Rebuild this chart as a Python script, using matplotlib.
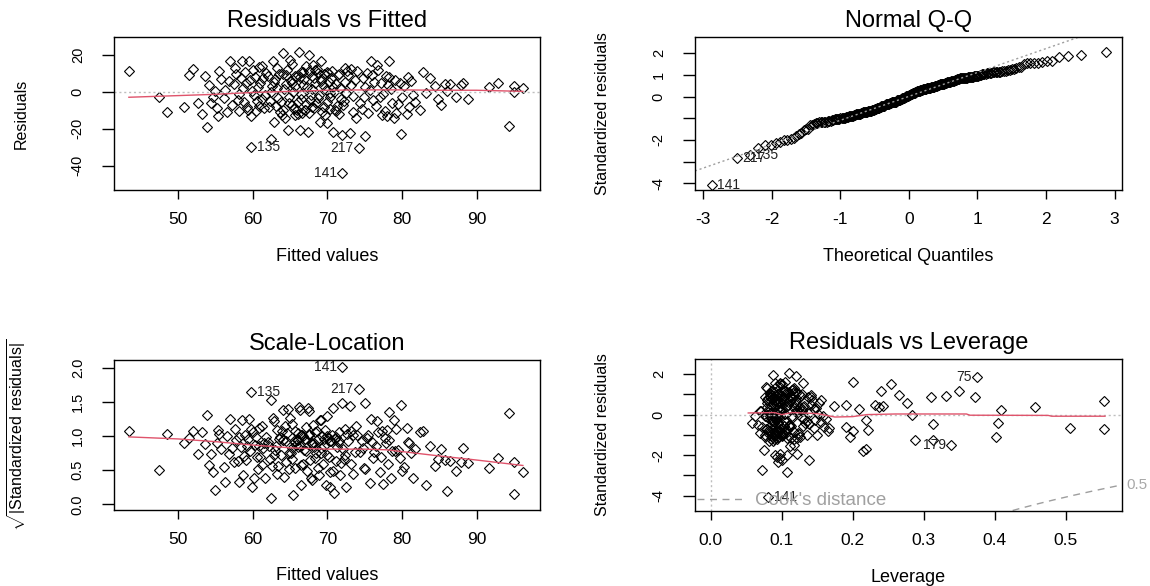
'''
Regression diagnostics (plot.lm style) for a fitted linear model.
'''

from statistics import NormalDist

import matplotlib
matplotlib.use("Agg")
import matplotlib.pyplot as plt
from matplotlib.lines import Line2D
import numpy as np

plt.rcParams['font.family'] = ['Liberation Sans', 'DejaVu Sans']
plt.rcParams['mathtext.fontset'] = 'custom'
plt.rcParams['mathtext.rm'] = 'Liberation Sans'
plt.rcParams['mathtext.it'] = 'Liberation Sans:italic'

# The first five observations are the labelled ones.
obs_names = ["141", "217", "135", "75", "179"]

fitted = [
    72.0, 74.2, 59.8, 78.3, 78.9,
    43.4, 47.5, 48.5, 50.8, 51.4, 52.0, 52.7, 53.2, 53.9, 54.4,
    54.7, 55.0, 55.5, 55.4, 56.6, 56.9, 56.3, 57.5, 57.6, 58.0,
    58.2, 58.5, 58.7, 58.9, 59.2, 59.5, 59.6, 60.0, 60.1, 60.5,
    60.7, 61.2, 60.9, 61.4, 61.6, 62.2, 62.4, 62.7, 62.8, 62.9,
    63.2, 63.4, 63.6, 64.0, 64.1, 64.3, 64.5, 64.7, 65.0, 65.2,
    65.3, 65.4, 65.6, 65.8, 66.1, 66.2, 66.3, 66.5, 66.7, 67.0,
    67.2, 67.4, 67.6, 67.8, 68.1, 68.2, 68.5, 68.75, 69.0, 69.2,
    69.4, 69.6, 69.96, 70.3, 70.5, 70.7, 71.0, 71.4, 71.7, 71.9,
    72.1, 72.3, 72.5, 72.8, 73.0, 73.2, 73.9, 74.4, 74.8, 75.1,
    75.3, 75.7, 75.9, 76.1, 76.3, 76.6, 76.8, 77.0, 77.3, 77.7,
    78.1, 78.3, 78.6, 79.2, 79.7, 79.8, 80.0, 80.7, 80.8, 81.5,
    81.7, 82.4, 82.8, 84.4, 84.8, 85.7, 86.4, 87.2, 87.9, 88.2,
    88.8, 91.7, 92.9, 94.3, 95.0, 95.0, 96.2,
    63.0, 63.5, 63.8, 64.2, 64.6, 64.9, 65.1, 65.5, 65.7, 66.0,
    66.4, 66.6, 66.9, 67.1, 67.3, 67.5, 67.7, 67.9, 68.0, 68.3,
    68.6, 68.8, 69.1, 69.3, 69.5, 69.8, 70.0, 70.2, 70.4, 70.6,
    70.9, 71.1, 71.3, 71.6, 71.8, 62.0, 62.3, 62.6, 61.8, 61.5,
    61.0, 60.3, 60.6, 59.9, 59.4, 59.1, 58.4, 58.1, 57.8, 57.2,
    56.8, 56.1, 55.8, 55.2, 54.1, 53.6, 73.5, 73.7, 74.0, 74.6,
    75.0, 75.5, 76.0, 76.5, 77.2, 77.5, 77.9, 78.0, 78.5, 79.0,
    79.4, 80.3, 81.0, 81.2, 83.2, 83.8, 85.2, 86.0, 63.1, 63.9,
    64.4, 65.9, 66.8, 67.6, 68.4, 69.7, 70.1, 71.2, 72.6, 73.4,
    62.5, 65.3, 66.5, 67.9, 68.9, 70.8, 72.4, 69.2, 66.3, 64.8,
    67.0, 71.5, 61.3, 60.8, 59.7, 73.1, 74.9, 68.2, 65.6, 69.9,
    63.3, 70.4, 58.8, 72.2, 66.0, 64.0,
]

resid = [
    -44.2, -30.6, -29.7, 16.5, -14.0,
    11.4, -2.5, -11.0, -8.3, 9.2, 12.5, -5.8, -12.1, -19.0, -5.8,
    -2.5, 0.5, 11.4, -12.9, -11.0, 17.0, 1.1, 4.2, 13.2, -4.3,
    -10.3, 16.5, 2.0, 11.0, -8.0, 16.5, 6.5, 12.0, -1.6, -10.3,
    2.9, 14.3, -7.4, 7.4, -1.6, -8.0, -25.5, 16.5, -16.1, 5.6,
    12.9, -3.4, -10.7, 21.0, 9.6, -14.3, 4.2, -20.7, 17.4, -7.1,
    15.0, 0.2, -12.5, 8.3, -5.3, 21.9, -20.7, 11.0, 3.8, -9.8,
    13.8, -21.6, 20.1, -1.6, 14.7, 7.4, -6.2, 10.1, -16.5, 16.5,
    3.8, -8.0, -17.0, -2.5, 7.8, -21.6, -9.8, 9.2, 2.0, -23.4,
    -7.1, 12.9, -0.7, 9.2, -22.5, 3.8, -14.3, -6.2, 7.4, -23.9,
    10.1, 1.1, 17.0, -4.3, 5.6, 14.7, 12.0, -2.5, -12.5, -10.3,
    3.8, 8.3, -6.2, -11.6, 4.7, -23.0, -2.5, -12.1, 8.0, -1.6,
    -5.3, -9.8, 10.7, 3.3, -3.8, 4.2, 4.2, -2.5, 3.8, 5.1,
    -3.8, 2.9, 4.7, -18.3, 3.3, -0.2, 2.0,
    6.8, 9.9, -5.6, 1.7, 11.8, -2.9, 6.1, -9.1, 3.0, 9.4,
    -3.6, -11.3, 6.9, -6.8, 2.5, 11.6, -4.4, 8.7, -8.4, 4.9,
    12.4, -3.1, 6.0, -10.9, 9.7, 0.9, -5.7, 5.2, -9.2, 11.1,
    -0.3, 4.3, -7.7, 9.5, -3.9, 8.9, -4.9, 3.4, 10.4, -8.7,
    5.1, 8.1, -5.1, 0.7, -10.0, 4.6, 7.8, -1.2, 9.6, -7.3,
    5.8, -3.2, 7.1, -8.9, 3.6, 8.4, -2.2, 6.3, 11.3, -9.4,
    2.8, -11.2, 9.1, -7.9, 5.0, -1.0, 8.8, -12.9, 1.6, 6.7,
    -6.6, 3.1, -8.4, 5.9, -0.8, 7.6, -6.9, 0.4, -7.9, -12.4,
    9.3, -9.6, 10.8, -11.4, 12.1, -12.7, 10.2, -10.4, 11.6, -11.1,
    0.1, 4.7, -0.9, 1.4, -1.9, 2.6, 5.6, 7.2, 7.9, -6.2,
    -9.9, -11.9, -3.7, 13.4, -13.1, 12.3, -3.0, -8.8, 8.9, 10.9,
    2.2, -0.7, -5.5, -4.8, -11.8, -9.7,
]

leverage = [
    0.081, 0.108, 0.072, 0.375, 0.339,
    0.24, 0.219, 0.196, 0.20, 0.265, 0.085, 0.11, 0.095, 0.075, 0.13,
    0.09, 0.105, 0.12, 0.085, 0.10, 0.09, 0.14, 0.08, 0.115, 0.095,
    0.125, 0.10, 0.07, 0.105, 0.088, 0.13, 0.095, 0.11, 0.085, 0.15,
    0.10, 0.08, 0.221, 0.12, 0.092, 0.078, 0.095, 0.20, 0.118, 0.088,
    0.102, 0.135, 0.09, 0.088, 0.112, 0.082, 0.098, 0.122, 0.105, 0.145,
    0.093, 0.075, 0.108, 0.087, 0.554, 0.11, 0.098, 0.128, 0.083, 0.10,
    0.118, 0.09, 0.12, 0.095, 0.078, 0.155, 0.104, 0.086, 0.112, 0.097,
    0.13, 0.08, 0.218, 0.092, 0.372, 0.107, 0.123, 0.084, 0.099, 0.138,
    0.09, 0.115, 0.077, 0.102, 0.094, 0.126, 0.088, 0.113, 0.091, 0.10,
    0.142, 0.085, 0.097, 0.313, 0.277, 0.254, 0.108, 0.093, 0.121, 0.082,
    0.106, 0.331, 0.19, 0.313, 0.19, 0.097, 0.132, 0.287, 0.31, 0.114,
    0.506, 0.402, 0.35, 0.148, 0.404, 0.243, 0.174, 0.162, 0.237, 0.554,
    0.155, 0.209, 0.232, 0.214, 0.457, 0.284, 0.408,
    0.097, 0.083, 0.112, 0.128, 0.091, 0.104, 0.079, 0.118, 0.094, 0.137,
    0.086, 0.101, 0.109, 0.073, 0.122, 0.096, 0.133, 0.081, 0.107, 0.094,
    0.119, 0.088, 0.103, 0.076, 0.127, 0.092, 0.111, 0.085, 0.099, 0.116,
    0.082, 0.131, 0.095, 0.089, 0.106, 0.114, 0.087, 0.125, 0.098, 0.081,
    0.109, 0.093, 0.138, 0.084, 0.102, 0.117, 0.09, 0.079, 0.112, 0.096,
    0.121, 0.086, 0.104, 0.093, 0.118, 0.101, 0.094, 0.117, 0.083, 0.105,
    0.128, 0.091, 0.113, 0.087, 0.142, 0.098, 0.108, 0.089, 0.12, 0.093,
    0.16, 0.146, 0.165, 0.152, 0.158, 0.143, 0.166, 0.151, 0.099, 0.113,
    0.076, 0.095, 0.124, 0.087, 0.102, 0.118, 0.09, 0.135, 0.083, 0.11,
    0.093, 0.107, 0.115, 0.081, 0.129, 0.097, 0.088, 0.112, 0.079, 0.103,
    0.092, 0.126, 0.089, 0.116, 0.094, 0.105, 0.147, 0.084, 0.141, 0.096,
    0.071, 0.062, 0.067, 0.058, 0.077, 0.069,
]

n_coef = 33
cook_levels = [0.5]

# red smoothers
rvf_smooth_x = [43.4, 50, 55, 60, 65, 70, 75, 80, 85, 90, 96.2]
rvf_smooth_y = [-2.9, -2.0, -1.3, -0.3, 0.3, 0.9, 1.1, 1.1, 0.9, 0.9, 0.3]
sl_smooth_x = [43.4, 50, 55, 60, 65, 70, 75, 78, 85, 90, 96.2]
sl_smooth_y = [0.99, 0.96, 0.92, 0.87, 0.83, 0.81, 0.81, 0.80, 0.71, 0.65, 0.57]
lev_smooth_x = [0.053, 0.09, 0.1, 0.115, 0.15, 0.175, 0.2, 0.22, 0.26,
                0.36, 0.365, 0.475, 0.48, 0.555]
lev_smooth_y = [0.08, 0.1, 0.0, 0.1, 0.05, -0.12, -0.1, 0.0, 0.03,
                0.03, -0.03, -0.04, -0.08, -0.08]

SMOOTH = '#DF536B'
REFGRAY = '#BEBEBE'
TICK_FS = 12.5
YTICK_FS = 10.5
LAB_FS = 13
YLAB_FS = 11.5
TITLE_FS = 17
ID_FS = 10


def point_name(i):
    return obs_names[i] if i < len(obs_names) else str(i + 1)


def label_points(ax, x, y, idx):
    " Put the observation names next to the points, as R's text.id does. "
    lo, hi = ax.get_xlim()
    mid = (lo + hi) / 2
    for i in idx:
        right = x[i] <= mid
        ax.annotate(point_name(i), (x[i], y[i]),
                    xytext=(4 if right else -4, 0), textcoords='offset points',
                    ha='left' if right else 'right', va='center',
                    fontsize=ID_FS, color='#222222', annotation_clip=False)


def style_axes(ax, title, xlabel, ylabel, xticks, xlabels, yticks, ylabels):
    ax.set_title(title, fontsize=TITLE_FS, pad=7)
    ax.set_xticks(xticks)
    ax.set_xticklabels(xlabels, fontsize=TICK_FS)
    ax.set_yticks(yticks)
    ax.set_yticklabels(ylabels, fontsize=YTICK_FS, rotation=90, va='center')
    ax.tick_params(axis='x', length=6.5, width=1, pad=9)
    ax.tick_params(axis='y', length=9, width=1, pad=12)
    ax.set_xlabel(xlabel, fontsize=LAB_FS)
    ax.set_ylabel(ylabel, fontsize=YLAB_FS)
    ax.xaxis.set_label_coords(0.5, -0.38)
    ax.yaxis.set_label_coords(-0.2, 0.5)
    for s in ax.spines.values():
        s.set_linewidth(1)


def scatter(ax, x, y):
    ax.plot(x, y, ls='none', marker='D', ms=5.5, mfc='none', mec='black',
            mew=0.8)


fitted = np.array(fitted)
resid = np.array(resid)
leverage = np.array(leverage)
n = len(resid)

sigma = np.sqrt(np.sum(resid ** 2) / (n - n_coef))
std_resid = resid / (sigma * np.sqrt(1 - leverage))
cooks = std_resid ** 2 * leverage / (n_coef * (1 - leverage))

fig = plt.figure(figsize=(11.5, 5.86), dpi=100)
ax_rf = fig.add_axes([0.0991, 0.6758, 0.3705, 0.2611])
ax_qq = fig.add_axes([0.6043, 0.6758, 0.3714, 0.2611])
ax_sl = fig.add_axes([0.0991, 0.1297, 0.3705, 0.2560])
ax_lv = fig.add_axes([0.6043, 0.1280, 0.3714, 0.2594])

# Residuals vs Fitted
scatter(ax_rf, fitted, resid)
ax_rf.axhline(0, color=REFGRAY, ls=(0, (1.5, 2)), lw=1)
ax_rf.plot(rvf_smooth_x, rvf_smooth_y, color=SMOOTH, lw=1)
ax_rf.set_xlim(41.4, 98.5)
ax_rf.set_ylim(-53.2, 29.8)
style_axes(ax_rf, "Residuals vs Fitted", "Fitted values", "Residuals",
           [50, 60, 70, 80, 90], ["50", "60", "70", "80", "90"],
           [-40, -20, 0, 20], ["-40", "-20", "0", "20"])
label_points(ax_rf, fitted, resid, np.argsort(-np.abs(resid))[:3])

# Normal Q-Q
order = np.argsort(std_resid)
nd = NormalDist()
theo = np.empty(n)
theo[order] = [nd.inv_cdf((i + 0.5) / n) for i in range(n)]
q1, q3 = np.percentile(std_resid, [25, 75])
t1, t3 = nd.inv_cdf(0.25), nd.inv_cdf(0.75)
slope = (q3 - q1) / (t3 - t1)
icpt = q1 - slope * t1
scatter(ax_qq, theo, std_resid)
ax_qq.set_xlim(-3.12, 3.11)
ax_qq.set_ylim(-4.31, 2.75)
ax_qq.axline((0, icpt), slope=slope, color='#9E9E9E', ls=(0, (1.5, 2)), lw=1)
style_axes(ax_qq, "Normal Q-Q", "Theoretical Quantiles",
           "Standardized residuals",
           [-3, -2, -1, 0, 1, 2, 3], ["-3", "-2", "-1", "0", "1", "2", "3"],
           [-4, -3, -2, -1, 0, 1, 2], ["-4", "", "-2", "", "0", "1", "2"])
label_points(ax_qq, theo, std_resid, np.argsort(-np.abs(std_resid))[:3])

# Scale-Location
sqrt_abs = np.sqrt(np.abs(std_resid))
scatter(ax_sl, fitted, sqrt_abs)
ax_sl.plot(sl_smooth_x, sl_smooth_y, color=SMOOTH, lw=1)
ax_sl.set_xlim(41.4, 98.5)
ax_sl.set_ylim(-0.084, 2.12)
style_axes(ax_sl, "Scale-Location", "Fitted values",
           r'$\sqrt{|\mathrm{Standardized\ residuals}|}$',
           [50, 60, 70, 80, 90], ["50", "60", "70", "80", "90"],
           [0, 0.5, 1, 1.5, 2], ["0.0", "0.5", "1.0", "1.5", "2.0"])
label_points(ax_sl, fitted, sqrt_abs, np.argsort(-np.abs(std_resid))[:3])

# Residuals vs Leverage
scatter(ax_lv, leverage, std_resid)
ax_lv.set_xlim(-0.022, 0.579)
ax_lv.set_ylim(-4.75, 2.74)
ax_lv.axhline(0, color=REFGRAY, ls=(0, (1.5, 2)), lw=1)
ax_lv.axvline(0, color=REFGRAY, ls=(0, (1.5, 2)), lw=1)
ax_lv.plot(lev_smooth_x, lev_smooth_y, color=SMOOTH, lw=1)
xmax = ax_lv.get_xlim()[1]
ylo, yhi = ax_lv.get_ylim()
hh = np.linspace(0.001, xmax, 200)
for crit in cook_levels:
    cl = np.sqrt(crit * n_coef * (1 - hh) / hh)
    ax_lv.plot(hh, cl, color='#9E9E9E', ls=(0, (5, 4)), lw=1)
    ax_lv.plot(hh, -cl, color='#9E9E9E', ls=(0, (5, 4)), lw=1)
    yend = np.sqrt(crit * n_coef * (1 - xmax) / xmax)
    for yy in (yend, -yend):
        if ylo < yy < yhi:
            ax_lv.annotate(str(crit), (xmax, yy), xytext=(3, 0),
                           textcoords='offset points', ha='left', va='center',
                           fontsize=11, color='#A8A8A8',
                           annotation_clip=False)
style_axes(ax_lv, "Residuals vs Leverage", "Leverage",
           "Standardized residuals",
           [0, 0.1, 0.2, 0.3, 0.4, 0.5],
           ["0.0", "0.1", "0.2", "0.3", "0.4", "0.5"],
           [-4, -3, -2, -1, 0, 1, 2], ["-4", "", "-2", "", "0", "", "2"])
label_points(ax_lv, leverage, std_resid, np.argsort(-cooks)[:3])
ax_lv.legend([Line2D([], [], color='#9E9E9E', ls=(0, (5, 4)), lw=1)],
             ["Cook's distance"], loc='lower left', frameon=False,
             fontsize=13.5, labelcolor='#A0A0A0', handlelength=2.5,
             borderaxespad=0.0, borderpad=0.1, handletextpad=0.6)

fig.savefig('out.png', dpi=100)
